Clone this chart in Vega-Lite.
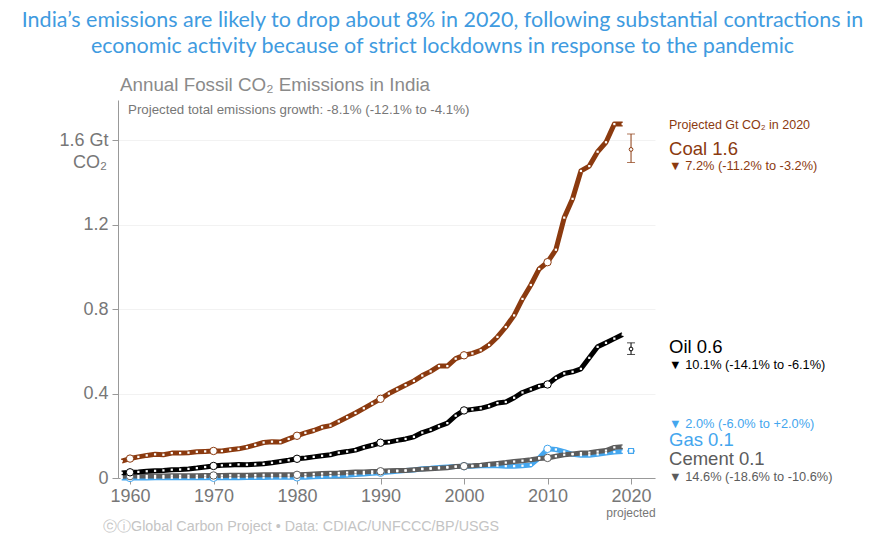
{
  "$schema": "https://vega.github.io/schema/vega-lite/v6.json",
  "width": 537,
  "height": 378,
  "autosize": {"type": "none"},
  "padding": {"left": 118, "top": 100, "right": 229, "bottom": 62},
  "background": "white",
  "title": {
    "text": ["India’s emissions are likely to drop about 8% in 2020, following substantial contractions in", "economic activity because of strict lockdowns in response to the pandemic"],
    "anchor": "middle",
    "frame": "group",
    "dx": 56,
    "dy": -8,
    "font": "Lato",
    "fontSize": 21.5,
    "fontWeight": "normal",
    "color": "#3f9be0",
    "lineHeight": 26,
    "offset": 10
  },
  "config": {
    "view": {"stroke": null},
    "axis": {"labelFont": "Liberation Sans", "domainColor": "#999999", "tickColor": "#999999", "labelColor": "#777777"},
    "text": {"font": "Liberation Sans"}
  },
  "datasets": {
    "series": [
      {"fuel":"Gas","year":1959,"value":0.000},{"fuel":"Gas","year":1960,"value":0.000},{"fuel":"Gas","year":1961,"value":0.000},{"fuel":"Gas","year":1962,"value":0.000},{"fuel":"Gas","year":1963,"value":0.001},{"fuel":"Gas","year":1964,"value":0.001},{"fuel":"Gas","year":1965,"value":0.001},{"fuel":"Gas","year":1966,"value":0.001},{"fuel":"Gas","year":1967,"value":0.001},{"fuel":"Gas","year":1968,"value":0.001},{"fuel":"Gas","year":1969,"value":0.001},{"fuel":"Gas","year":1970,"value":0.001},{"fuel":"Gas","year":1971,"value":0.001},{"fuel":"Gas","year":1972,"value":0.001},{"fuel":"Gas","year":1973,"value":0.001},{"fuel":"Gas","year":1974,"value":0.002},{"fuel":"Gas","year":1975,"value":0.002},{"fuel":"Gas","year":1976,"value":0.002},{"fuel":"Gas","year":1977,"value":0.003},{"fuel":"Gas","year":1978,"value":0.003},{"fuel":"Gas","year":1979,"value":0.003},{"fuel":"Gas","year":1980,"value":0.003},{"fuel":"Gas","year":1981,"value":0.004},{"fuel":"Gas","year":1982,"value":0.006},{"fuel":"Gas","year":1983,"value":0.007},{"fuel":"Gas","year":1984,"value":0.009},{"fuel":"Gas","year":1985,"value":0.011},{"fuel":"Gas","year":1986,"value":0.013},{"fuel":"Gas","year":1987,"value":0.016},{"fuel":"Gas","year":1988,"value":0.019},{"fuel":"Gas","year":1989,"value":0.022},{"fuel":"Gas","year":1990,"value":0.025},{"fuel":"Gas","year":1991,"value":0.028},{"fuel":"Gas","year":1992,"value":0.032},{"fuel":"Gas","year":1993,"value":0.035},{"fuel":"Gas","year":1994,"value":0.038},{"fuel":"Gas","year":1995,"value":0.044},{"fuel":"Gas","year":1996,"value":0.046},{"fuel":"Gas","year":1997,"value":0.050},{"fuel":"Gas","year":1998,"value":0.052},{"fuel":"Gas","year":1999,"value":0.054},{"fuel":"Gas","year":2000,"value":0.056},{"fuel":"Gas","year":2001,"value":0.056},{"fuel":"Gas","year":2002,"value":0.058},{"fuel":"Gas","year":2003,"value":0.058},{"fuel":"Gas","year":2004,"value":0.058},{"fuel":"Gas","year":2005,"value":0.056},{"fuel":"Gas","year":2006,"value":0.056},{"fuel":"Gas","year":2007,"value":0.058},{"fuel":"Gas","year":2008,"value":0.062},{"fuel":"Gas","year":2009,"value":0.095},{"fuel":"Gas","year":2010,"value":0.138},{"fuel":"Gas","year":2011,"value":0.135},{"fuel":"Gas","year":2012,"value":0.125},{"fuel":"Gas","year":2013,"value":0.112},{"fuel":"Gas","year":2014,"value":0.108},{"fuel":"Gas","year":2015,"value":0.108},{"fuel":"Gas","year":2016,"value":0.112},{"fuel":"Gas","year":2017,"value":0.118},{"fuel":"Gas","year":2018,"value":0.123},{"fuel":"Gas","year":2019,"value":0.125},
      {"fuel":"Cement","year":1959,"value":0.008},{"fuel":"Cement","year":1960,"value":0.009},{"fuel":"Cement","year":1961,"value":0.009},{"fuel":"Cement","year":1962,"value":0.010},{"fuel":"Cement","year":1963,"value":0.010},{"fuel":"Cement","year":1964,"value":0.010},{"fuel":"Cement","year":1965,"value":0.011},{"fuel":"Cement","year":1966,"value":0.011},{"fuel":"Cement","year":1967,"value":0.011},{"fuel":"Cement","year":1968,"value":0.011},{"fuel":"Cement","year":1969,"value":0.012},{"fuel":"Cement","year":1970,"value":0.012},{"fuel":"Cement","year":1971,"value":0.012},{"fuel":"Cement","year":1972,"value":0.013},{"fuel":"Cement","year":1973,"value":0.013},{"fuel":"Cement","year":1974,"value":0.013},{"fuel":"Cement","year":1975,"value":0.014},{"fuel":"Cement","year":1976,"value":0.015},{"fuel":"Cement","year":1977,"value":0.015},{"fuel":"Cement","year":1978,"value":0.015},{"fuel":"Cement","year":1979,"value":0.015},{"fuel":"Cement","year":1980,"value":0.015},{"fuel":"Cement","year":1981,"value":0.017},{"fuel":"Cement","year":1982,"value":0.019},{"fuel":"Cement","year":1983,"value":0.021},{"fuel":"Cement","year":1984,"value":0.023},{"fuel":"Cement","year":1985,"value":0.024},{"fuel":"Cement","year":1986,"value":0.026},{"fuel":"Cement","year":1987,"value":0.028},{"fuel":"Cement","year":1988,"value":0.029},{"fuel":"Cement","year":1989,"value":0.031},{"fuel":"Cement","year":1990,"value":0.032},{"fuel":"Cement","year":1991,"value":0.034},{"fuel":"Cement","year":1992,"value":0.035},{"fuel":"Cement","year":1993,"value":0.036},{"fuel":"Cement","year":1994,"value":0.039},{"fuel":"Cement","year":1995,"value":0.042},{"fuel":"Cement","year":1996,"value":0.044},{"fuel":"Cement","year":1997,"value":0.046},{"fuel":"Cement","year":1998,"value":0.049},{"fuel":"Cement","year":1999,"value":0.054},{"fuel":"Cement","year":2000,"value":0.056},{"fuel":"Cement","year":2001,"value":0.058},{"fuel":"Cement","year":2002,"value":0.061},{"fuel":"Cement","year":2003,"value":0.065},{"fuel":"Cement","year":2004,"value":0.069},{"fuel":"Cement","year":2005,"value":0.073},{"fuel":"Cement","year":2006,"value":0.078},{"fuel":"Cement","year":2007,"value":0.082},{"fuel":"Cement","year":2008,"value":0.086},{"fuel":"Cement","year":2009,"value":0.092},{"fuel":"Cement","year":2010,"value":0.095},{"fuel":"Cement","year":2011,"value":0.103},{"fuel":"Cement","year":2012,"value":0.110},{"fuel":"Cement","year":2013,"value":0.114},{"fuel":"Cement","year":2014,"value":0.118},{"fuel":"Cement","year":2015,"value":0.120},{"fuel":"Cement","year":2016,"value":0.125},{"fuel":"Cement","year":2017,"value":0.130},{"fuel":"Cement","year":2018,"value":0.145},{"fuel":"Cement","year":2019,"value":0.148},
      {"fuel":"Oil","year":1959,"value":0.024},{"fuel":"Oil","year":1960,"value":0.027},{"fuel":"Oil","year":1961,"value":0.029},{"fuel":"Oil","year":1962,"value":0.032},{"fuel":"Oil","year":1963,"value":0.034},{"fuel":"Oil","year":1964,"value":0.036},{"fuel":"Oil","year":1965,"value":0.039},{"fuel":"Oil","year":1966,"value":0.040},{"fuel":"Oil","year":1967,"value":0.043},{"fuel":"Oil","year":1968,"value":0.047},{"fuel":"Oil","year":1969,"value":0.052},{"fuel":"Oil","year":1970,"value":0.057},{"fuel":"Oil","year":1971,"value":0.060},{"fuel":"Oil","year":1972,"value":0.062},{"fuel":"Oil","year":1973,"value":0.064},{"fuel":"Oil","year":1974,"value":0.063},{"fuel":"Oil","year":1975,"value":0.065},{"fuel":"Oil","year":1976,"value":0.067},{"fuel":"Oil","year":1977,"value":0.072},{"fuel":"Oil","year":1978,"value":0.078},{"fuel":"Oil","year":1979,"value":0.084},{"fuel":"Oil","year":1980,"value":0.091},{"fuel":"Oil","year":1981,"value":0.095},{"fuel":"Oil","year":1982,"value":0.100},{"fuel":"Oil","year":1983,"value":0.105},{"fuel":"Oil","year":1984,"value":0.110},{"fuel":"Oil","year":1985,"value":0.120},{"fuel":"Oil","year":1986,"value":0.125},{"fuel":"Oil","year":1987,"value":0.132},{"fuel":"Oil","year":1988,"value":0.145},{"fuel":"Oil","year":1989,"value":0.155},{"fuel":"Oil","year":1990,"value":0.167},{"fuel":"Oil","year":1991,"value":0.170},{"fuel":"Oil","year":1992,"value":0.178},{"fuel":"Oil","year":1993,"value":0.185},{"fuel":"Oil","year":1994,"value":0.195},{"fuel":"Oil","year":1995,"value":0.215},{"fuel":"Oil","year":1996,"value":0.228},{"fuel":"Oil","year":1997,"value":0.245},{"fuel":"Oil","year":1998,"value":0.260},{"fuel":"Oil","year":1999,"value":0.295},{"fuel":"Oil","year":2000,"value":0.320},{"fuel":"Oil","year":2001,"value":0.325},{"fuel":"Oil","year":2002,"value":0.330},{"fuel":"Oil","year":2003,"value":0.340},{"fuel":"Oil","year":2004,"value":0.355},{"fuel":"Oil","year":2005,"value":0.360},{"fuel":"Oil","year":2006,"value":0.380},{"fuel":"Oil","year":2007,"value":0.405},{"fuel":"Oil","year":2008,"value":0.420},{"fuel":"Oil","year":2009,"value":0.435},{"fuel":"Oil","year":2010,"value":0.443},{"fuel":"Oil","year":2011,"value":0.474},{"fuel":"Oil","year":2012,"value":0.495},{"fuel":"Oil","year":2013,"value":0.503},{"fuel":"Oil","year":2014,"value":0.517},{"fuel":"Oil","year":2015,"value":0.569},{"fuel":"Oil","year":2016,"value":0.621},{"fuel":"Oil","year":2017,"value":0.640},{"fuel":"Oil","year":2018,"value":0.660},{"fuel":"Oil","year":2019,"value":0.679},
      {"fuel":"Coal","year":1959,"value":0.080},{"fuel":"Coal","year":1960,"value":0.092},{"fuel":"Coal","year":1961,"value":0.100},{"fuel":"Coal","year":1962,"value":0.107},{"fuel":"Coal","year":1963,"value":0.112},{"fuel":"Coal","year":1964,"value":0.110},{"fuel":"Coal","year":1965,"value":0.118},{"fuel":"Coal","year":1966,"value":0.118},{"fuel":"Coal","year":1967,"value":0.120},{"fuel":"Coal","year":1968,"value":0.124},{"fuel":"Coal","year":1969,"value":0.126},{"fuel":"Coal","year":1970,"value":0.128},{"fuel":"Coal","year":1971,"value":0.128},{"fuel":"Coal","year":1972,"value":0.134},{"fuel":"Coal","year":1973,"value":0.138},{"fuel":"Coal","year":1974,"value":0.146},{"fuel":"Coal","year":1975,"value":0.157},{"fuel":"Coal","year":1976,"value":0.168},{"fuel":"Coal","year":1977,"value":0.172},{"fuel":"Coal","year":1978,"value":0.170},{"fuel":"Coal","year":1979,"value":0.185},{"fuel":"Coal","year":1980,"value":0.200},{"fuel":"Coal","year":1981,"value":0.214},{"fuel":"Coal","year":1982,"value":0.225},{"fuel":"Coal","year":1983,"value":0.240},{"fuel":"Coal","year":1984,"value":0.248},{"fuel":"Coal","year":1985,"value":0.268},{"fuel":"Coal","year":1986,"value":0.288},{"fuel":"Coal","year":1987,"value":0.308},{"fuel":"Coal","year":1988,"value":0.330},{"fuel":"Coal","year":1989,"value":0.352},{"fuel":"Coal","year":1990,"value":0.375},{"fuel":"Coal","year":1991,"value":0.400},{"fuel":"Coal","year":1992,"value":0.420},{"fuel":"Coal","year":1993,"value":0.440},{"fuel":"Coal","year":1994,"value":0.460},{"fuel":"Coal","year":1995,"value":0.485},{"fuel":"Coal","year":1996,"value":0.505},{"fuel":"Coal","year":1997,"value":0.530},{"fuel":"Coal","year":1998,"value":0.530},{"fuel":"Coal","year":1999,"value":0.565},{"fuel":"Coal","year":2000,"value":0.581},{"fuel":"Coal","year":2001,"value":0.590},{"fuel":"Coal","year":2002,"value":0.605},{"fuel":"Coal","year":2003,"value":0.630},{"fuel":"Coal","year":2004,"value":0.668},{"fuel":"Coal","year":2005,"value":0.715},{"fuel":"Coal","year":2006,"value":0.770},{"fuel":"Coal","year":2007,"value":0.848},{"fuel":"Coal","year":2008,"value":0.914},{"fuel":"Coal","year":2009,"value":0.990},{"fuel":"Coal","year":2010,"value":1.022},{"fuel":"Coal","year":2011,"value":1.081},{"fuel":"Coal","year":2012,"value":1.233},{"fuel":"Coal","year":2013,"value":1.322},{"fuel":"Coal","year":2014,"value":1.454},{"fuel":"Coal","year":2015,"value":1.477},{"fuel":"Coal","year":2016,"value":1.545},{"fuel":"Coal","year":2017,"value":1.590},{"fuel":"Coal","year":2018,"value":1.676},{"fuel":"Coal","year":2019,"value":1.676}
    ],
    "projection": [
      {"fuel":"Coal","year":2020,"value":1.556,"low":1.494,"high":1.629},
      {"fuel":"Oil","year":2020,"value":0.611,"low":0.585,"high":0.640},
      {"fuel":"Gas","year":2020,"value":0.128,"low":0.125,"high":0.131}
    ],
    "labels": [
      {"fuel":"Coal","kind":"head","text":"Projected Gt CO₂ in 2020","year":2024.55,"value":1.673},
      {"fuel":"Coal","kind":"name","text":"Coal 1.6","year":2024.55,"value":1.56},
      {"fuel":"Coal","kind":"pct","text":"▼ 7.2% (-11.2% to -3.2%)","year":2024.55,"value":1.479},
      {"fuel":"Oil","kind":"name","text":"Oil 0.6","year":2024.55,"value":0.618},
      {"fuel":"Oil","kind":"pct","text":"▼ 10.1% (-14.1% to -6.1%)","year":2024.55,"value":0.533},
      {"fuel":"Gas","kind":"pct","text":"▼ 2.0% (-6.0% to +2.0%)","year":2024.55,"value":0.258},
      {"fuel":"Gas","kind":"name","text":"Gas 0.1","year":2024.55,"value":0.181},
      {"fuel":"Cement","kind":"name","text":"Cement 0.1","year":2024.55,"value":0.089},
      {"fuel":"Cement","kind":"pct","text":"▼ 14.6% (-18.6% to -10.6%)","year":2024.55,"value":0.005}
    ],
    "notes": [
      {"kind":"title","text":"Annual Fossil CO₂ Emissions in India","year":1958.8,"value":1.863},
      {"kind":"note","text":"Projected total emissions growth: -8.1% (-12.1% to -4.1%)","year":1959.76,"value":1.745},
      {"kind":"unit","text":"CO₂","year":1958.56,"value":1.491},
      {"kind":"proj","text":"projected","year":2020,"value":-0.166},
      {"kind":"footer","text":"ⓒⓘGlobal Carbon Project  •  Data: CDIAC/UNFCCC/BP/USGS","year":1956.77,"value":-0.232}
    ]
  },
  "encoding": {
    "x": {"field": "year", "type": "quantitative", "scale": {"domain": [1958.56, 2022.87], "nice": false, "zero": false},
      "axis": {"title": null, "values": [1960, 1970, 1980, 1990, 2000, 2010, 2020], "format": "d", "grid": false, "labelFontSize": 18, "tickSize": 6, "labelPadding": 3, "labelFlush": false}},
    "y": {"field": "value", "type": "quantitative", "scale": {"domain": [0, 1.79], "nice": false},
      "axis": {"title": null, "values": [0, 0.4, 0.8, 1.2, 1.6], "labelExpr": "datum.value == 1.6 ? '1.6 Gt' : datum.value == 0 ? '0' : format(datum.value, '.1f')", "grid": true, "gridColor": "#f2f2f2", "labelFontSize": 18, "tickSize": 6, "labelPadding": 4}}
  },
  "layer": [
    {
      "data": {"name": "series"},
      "mark": {"type": "line", "strokeWidth": 5, "strokeCap": "butt", "strokeJoin": "round"},
      "encoding": {
        "color": {"field": "fuel", "type": "nominal", "legend": null,
          "scale": {"domain": ["Coal", "Oil", "Gas", "Cement"], "range": ["#8b3a0f", "#000000", "#44a6ee", "#5c5c5c"]}}
      }
    },
    {
      "data": {"name": "series"},
      "mark": {"type": "point", "shape": "square", "filled": true, "color": "white", "size": 5, "opacity": 1}
    },
    {
      "data": {"name": "series"},
      "transform": [{"filter": "datum.year % 10 == 0"}],
      "mark": {"type": "point", "shape": "circle", "fill": "white", "fillOpacity": 1, "strokeWidth": 1, "size": 55, "opacity": 1},
      "encoding": {
        "stroke": {"field": "fuel", "type": "nominal", "legend": null,
          "scale": {"domain": ["Coal", "Oil", "Gas", "Cement"], "range": ["#8b3a0f", "#000000", "#44a6ee", "#5c5c5c"]}}
      }
    },
    {
      "data": {"name": "projection"},
      "mark": {"type": "rule", "strokeWidth": 1},
      "encoding": {
        "y": {"field": "low", "type": "quantitative"},
        "y2": {"field": "high"},
        "color": {"field": "fuel", "type": "nominal", "legend": null}
      }
    },
    {
      "data": {"name": "projection"},
      "mark": {"type": "tick", "orient": "horizontal", "size": 8, "thickness": 1},
      "encoding": {
        "y": {"field": "low", "type": "quantitative"},
        "color": {"field": "fuel", "type": "nominal", "legend": null}
      }
    },
    {
      "data": {"name": "projection"},
      "mark": {"type": "tick", "orient": "horizontal", "size": 8, "thickness": 1},
      "encoding": {
        "y": {"field": "high", "type": "quantitative"},
        "color": {"field": "fuel", "type": "nominal", "legend": null}
      }
    },
    {
      "data": {"name": "projection"},
      "transform": [{"filter": "datum.fuel != 'Gas'"}],
      "mark": {"type": "point", "shape": "circle", "fill": "white", "fillOpacity": 1, "strokeWidth": 1, "size": 14, "opacity": 1},
      "encoding": {
        "stroke": {"field": "fuel", "type": "nominal", "legend": null}
      }
    },
    {
      "data": {"name": "projection"},
      "transform": [{"filter": "datum.fuel == 'Gas'"}],
      "mark": {"type": "point", "shape": "square", "fill": "white", "fillOpacity": 1, "strokeWidth": 1.2, "size": 24, "opacity": 1},
      "encoding": {
        "stroke": {"field": "fuel", "type": "nominal", "legend": null}
      }
    },
    {
      "data": {"name": "labels"},
      "transform": [{"filter": "datum.kind == 'head'"}],
      "mark": {"type": "text", "align": "left", "baseline": "middle", "fontSize": 12.5},
      "encoding": {"text": {"field": "text"}, "color": {"field": "fuel", "type": "nominal", "legend": null}}
    },
    {
      "data": {"name": "labels"},
      "transform": [{"filter": "datum.kind == 'name'"}],
      "mark": {"type": "text", "align": "left", "baseline": "middle", "fontSize": 18.5},
      "encoding": {"text": {"field": "text"}, "color": {"field": "fuel", "type": "nominal", "legend": null}}
    },
    {
      "data": {"name": "labels"},
      "transform": [{"filter": "datum.kind == 'pct'"}],
      "mark": {"type": "text", "align": "left", "baseline": "middle", "fontSize": 12.8},
      "encoding": {"text": {"field": "text"}, "color": {"field": "fuel", "type": "nominal", "legend": null}}
    },
    {
      "data": {"name": "notes"},
      "transform": [{"filter": "datum.kind == 'title'"}],
      "mark": {"type": "text", "align": "left", "baseline": "middle", "fontSize": 18.8, "color": "#8a8a8a"},
      "encoding": {"text": {"field": "text"}}
    },
    {
      "data": {"name": "notes"},
      "transform": [{"filter": "datum.kind == 'note'"}],
      "mark": {"type": "text", "align": "left", "baseline": "middle", "fontSize": 13.3, "color": "#777777"},
      "encoding": {"text": {"field": "text"}}
    },
    {
      "data": {"name": "notes"},
      "transform": [{"filter": "datum.kind == 'unit'"}],
      "mark": {"type": "text", "align": "right", "baseline": "middle", "fontSize": 18, "color": "#777777", "dx": -11},
      "encoding": {"text": {"field": "text"}}
    },
    {
      "data": {"name": "notes"},
      "transform": [{"filter": "datum.kind == 'proj'"}],
      "mark": {"type": "text", "align": "center", "baseline": "middle", "fontSize": 12, "color": "#777777"},
      "encoding": {"text": {"field": "text"}}
    },
    {
      "data": {"name": "notes"},
      "transform": [{"filter": "datum.kind == 'footer'"}],
      "mark": {"type": "text", "align": "left", "baseline": "middle", "fontSize": 14.3, "color": "#c4c4c4"},
      "encoding": {"text": {"field": "text"}}
    }
  ]
}
